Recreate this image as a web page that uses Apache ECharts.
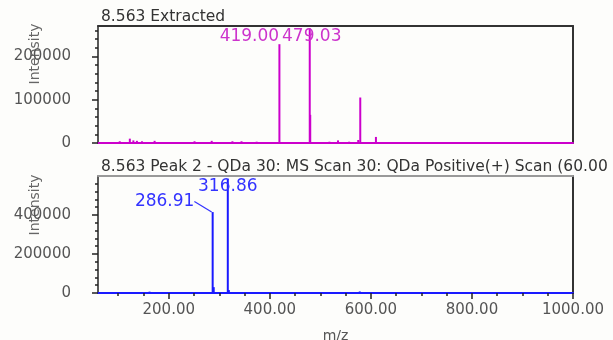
<!DOCTYPE html>
<html>
<head>
<meta charset="utf-8">
<script src="https://cdn.jsdelivr.net/npm/echarts@6/dist/echarts.min.js"></script>
<style>
html, body { margin: 0; padding: 0; background: #fdfdfb; }
#chart { width: 613px; height: 340px; }
</style>
</head>
<body>
<div id="chart"></div>
<script>
// top spectrum: 8.563 Extracted
var topMz = [103, 123, 130, 137, 147, 172, 251, 285, 326, 344, 374, 419.00, 479.03, 480, 518, 535, 557, 575, 579, 610, 967];
var topIntensity = [4000, 10000, 6000, 5000, 4000, 5000, 4000, 5000, 4000, 4000, 3000, 228000, 265000, 65000, 3000, 6000, 3000, 7000, 105000, 14000, 2000];
var topLabeled = [419.00, 479.03];

// bottom spectrum: Peak 2 scan
var bottomMz = [100, 125, 162, 286.91, 289, 316.86, 319, 520, 536, 578];
var bottomIntensity = [3000, 4000, 7000, 415000, 30000, 585000, 15000, 4000, 4000, 8000];
var bottomLabeled = [286.91, 316.86];

// ticks
var xTicks = [200, 400, 600, 800, 1000];
var xMinorTicks = [100, 150, 250, 300, 350, 450, 500, 550, 650, 700, 750, 850, 900, 950];
var topYTicks = [0, 100000, 200000];
var topYMinorTicks = [20000, 40000, 60000, 80000, 120000, 140000, 160000, 180000, 220000, 240000, 260000];
var bottomYTicks = [0, 200000, 400000];
var bottomYMinorTicks = [40000, 80000, 120000, 160000, 240000, 280000, 320000, 360000, 440000, 480000, 520000, 560000];

var FONT = 'DejaVu Sans';
var MAGENTA = '#cc00cc';
var BLUE = '#1a1aff';

// label shifts (styling only)
var labelOffsets = {
    '419.00': [-30, 6],
    '479.03': [2, 22]
};
var labelMoves = {
    '286.91': { dx: -48, dy: 3 },
    '316.86': { dx: 0, dy: 21 }
};
var leaderLabels = ['286.91'];

function buildBars(mz, vals, labeled, labelColor) {
    var out = [];
    mz.forEach(function (m, i) {
        var item = { value: [m, vals[i]] };
        if (labeled.indexOf(m) >= 0) {
            var txt = m.toFixed(2);
            item.label = {
                show: true,
                position: 'top',
                formatter: txt,
                color: labelColor,
                fontSize: 17,
                fontFamily: FONT,
                offset: labelOffsets[txt] || [0, 0]
            };
            if (leaderLabels.indexOf(txt) >= 0) {
                item.labelLine = { show: true, lineStyle: { color: labelColor, width: 1.2 } };
            }
        }
        out.push(item);
    });
    return out;
}

function baseX(grid, extra) {
    var a = {
        gridIndex: grid, type: 'value', min: 60, max: 1000,
        axisLine: { show: false, onZero: false },
        axisTick: { show: false },
        axisLabel: { show: false },
        splitLine: { show: false }
    };
    return Object.assign(a, extra);
}
function baseY(grid, max, extra) {
    var a = {
        gridIndex: grid, type: 'value', min: 0, max: max,
        axisLine: { show: false, onZero: false },
        axisTick: { show: false },
        axisLabel: { show: false },
        splitLine: { show: false }
    };
    return Object.assign(a, extra);
}
var labelStyle = { fontSize: 15, color: '#555', fontFamily: FONT };
var titleStyle = { fontSize: 15.5, fontWeight: 'normal', color: '#333', fontFamily: FONT };

var initChart = function () {
    var dom = document.getElementById('chart');
    var myChart = echarts.init(dom);

    var yLabelFmt = function (v) { return String(v); };
    var xLabelFmt = function (v) { return v.toFixed(2); };

    var option = {
        backgroundColor: '#fdfdfb',
        animation: false,
        title: [
            { text: '8.563 Extracted', left: 96, top: 4, textStyle: titleStyle },
            { text: '8.563 Peak 2 - QDa 30: MS Scan 30: QDa Positive(+) Scan (60.00', left: 96, top: 154, textStyle: titleStyle }
        ],
        grid: [
            { left: 98, right: 40, top: 26, height: 117, outerBoundsMode: 'none' },
            { left: 98, right: 40, top: 176, height: 117, outerBoundsMode: 'none' }
        ],
        graphic: [
            { type: 'text', x: 35, y: 54, rotation: Math.PI / 2,
              style: { text: 'Intensity', font: '14px "DejaVu Sans"', fill: '#666', align: 'center', verticalAlign: 'middle' } },
            { type: 'text', x: 35, y: 205, rotation: Math.PI / 2,
              style: { text: 'Intensity', font: '14px "DejaVu Sans"', fill: '#666', align: 'center', verticalAlign: 'middle' } }
        ],
        xAxis: [
            baseX(0, { position: 'bottom', axisLine: { show: true, onZero: false, lineStyle: { color: MAGENTA, width: 2 } } }),
            baseX(0, { position: 'top', axisLine: { show: true, onZero: false, lineStyle: { color: '#333', width: 2 } } }),
            baseX(1, {
                position: 'bottom',
                axisLine: { show: true, onZero: false, lineStyle: { color: BLUE, width: 2 } },
                axisTick: { show: true, customValues: xTicks, length: 6, lineStyle: { color: '#222', width: 1.5 } },
                axisLabel: Object.assign({ show: true, customValues: xTicks, formatter: xLabelFmt, margin: 10 }, labelStyle),
                name: 'm/z', nameLocation: 'middle', nameGap: 36,
                nameTextStyle: { fontSize: 14, color: '#555', fontFamily: FONT }
            }),
            baseX(1, {
                position: 'bottom',
                axisTick: { show: true, customValues: xMinorTicks, length: 3, lineStyle: { color: '#222', width: 1.5 } }
            }),
            baseX(1, { position: 'top', axisLine: { show: true, onZero: false, lineStyle: { color: '#999', width: 2 } } })
        ],
        yAxis: [
            baseY(0, 270000, {
                position: 'left',
                axisLine: { show: true, onZero: false, lineStyle: { color: '#222', width: 1.5 } },
                axisTick: { show: true, customValues: topYTicks, length: 6, lineStyle: { color: '#222', width: 1.5 } },
                axisLabel: Object.assign({ show: true, customValues: topYTicks, formatter: yLabelFmt, margin: 27 }, labelStyle)
            }),
            baseY(0, 270000, {
                position: 'left',
                axisTick: { show: true, customValues: topYMinorTicks, length: 3, lineStyle: { color: '#222', width: 1.5 } }
            }),
            baseY(0, 270000, { position: 'right', axisLine: { show: true, onZero: false, lineStyle: { color: '#333', width: 2 } } }),
            baseY(1, 600000, {
                position: 'left',
                axisLine: { show: true, onZero: false, lineStyle: { color: '#222', width: 1.5 } },
                axisTick: { show: true, customValues: bottomYTicks, length: 6, lineStyle: { color: '#222', width: 1.5 } },
                axisLabel: Object.assign({ show: true, customValues: bottomYTicks, formatter: yLabelFmt, margin: 27 }, labelStyle)
            }),
            baseY(1, 600000, {
                position: 'left',
                axisTick: { show: true, customValues: bottomYMinorTicks, length: 3, lineStyle: { color: '#222', width: 1.5 } }
            }),
            baseY(1, 600000, { position: 'right', axisLine: { show: true, onZero: false, lineStyle: { color: '#333', width: 2 } } })
        ],
        series: [
            {
                name: 'Extracted',
                type: 'bar',
                xAxisIndex: 0,
                yAxisIndex: 0,
                barWidth: 2,
                itemStyle: { color: MAGENTA },
                data: buildBars(topMz, topIntensity, topLabeled, '#cc33cc')
            },
            {
                name: 'Peak 2',
                type: 'bar',
                xAxisIndex: 2,
                yAxisIndex: 3,
                barWidth: 2,
                itemStyle: { color: BLUE },
                data: buildBars(bottomMz, bottomIntensity, bottomLabeled, '#3333ff'),
                labelLayout: function (params) {
                    var m = bottomMz[params.dataIndex];
                    var txt = m !== undefined ? m.toFixed(2) : '';
                    return labelMoves[txt] || {};
                }
            }
        ]
    };
    myChart.setOption(option);
};
initChart();
</script>
</body>
</html>
